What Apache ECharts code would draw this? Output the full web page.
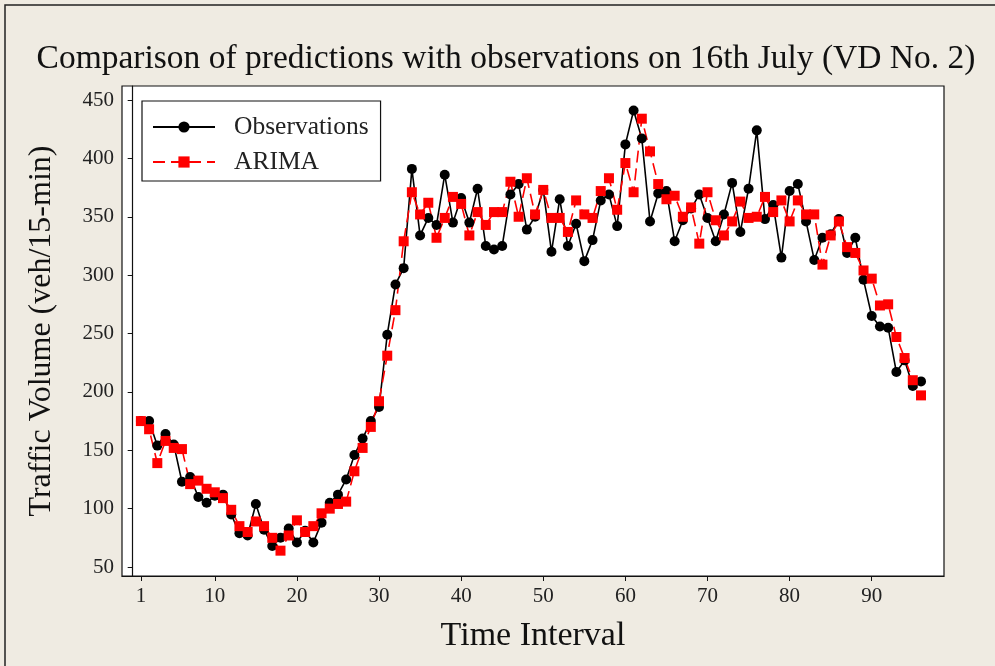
<!DOCTYPE html>
<html>
<head>
<meta charset="utf-8">
<script src="https://cdn.jsdelivr.net/npm/echarts@6/dist/echarts.min.js"></script>
<style>
html,body{margin:0;padding:0;background:#efebe2;}
#c{width:995px;height:666px;}
</style>
</head>
<body>
<div id="c"></div>
<script>
const observations = [175,175,154,164,155,123,127,110,105,111,
  112,95,79,77,104,82,68,75,83,71,
  81,71,88,105,112,125,146,160,175,187,
  249,292,306,391,334,349,343,386,345,366,
  345,374,325,322,325,369,378,339,350,373,
  320,365,325,344,312,330,364,369,342,412,
  441,417,346,370,372,329,347,357,369,349,
  329,352,379,337,374,424,348,360,315,372,
  378,346,313,332,335,348,319,332,296,265,
  256,255,217,227,205,209];
const arima = [175,168,139,158,152,151,121,124,117,114,
  109,99,85,80,89,85,75,64,77,90,
  80,85,96,100,104,106,132,152,170,192,
  231,270,329,371,352,362,332,349,367,361,
  334,354,343,354,354,380,350,383,352,373,
  349,349,337,364,352,349,372,383,356,396,
  371,434,406,378,365,368,350,358,327,371,
  347,334,346,363,349,350,367,354,364,346,
  364,352,352,309,334,346,324,319,304,297,
  274,275,247,229,210,197];
const xTicks = [1,10,20,30,40,50,60,70,80,90];
const yTicks = [50,100,150,200,250,300,350,400,450];
const titleText = 'Comparison of predictions with observations on 16th July (VD No. 2)';

const toPairs = arr => arr.map((v, i) => [i + 1, v]);
const FONT = 'Liberation Serif';

const chart = echarts.init(document.getElementById('c'), null, {renderer: 'canvas'});
chart.setOption({
  backgroundColor: '#efebe2',
  animation: false,
  graphic: [
    {type: 'rect', shape: {x: 5, y: 5, width: 1100, height: 800},
     style: {fill: 'none', stroke: '#222', lineWidth: 1.5}, silent: true, z: -1},
    {type: 'text', x: 506, y: 59,
     style: {text: titleText, font: '33.5px "Liberation Serif"', fill: '#111',
             textAlign: 'center', textVerticalAlign: 'middle'}}
  ],
  grid: {left: 122, top: 86, right: 51, bottom: 90, show: true,
         backgroundColor: '#ffffff', borderColor: '#111', borderWidth: 1.2},
  legend: {
    left: 142, top: 101, orient: 'vertical',
    backgroundColor: '#ffffff', borderColor: '#111', borderWidth: 1.2,
    padding: [13, 12, 6, 10], itemGap: 9, itemWidth: 62, itemHeight: 14,
    textStyle: {fontFamily: FONT, fontSize: 25.5, color: '#222', padding: [0, 0, 0, 14]},
    data: ['Observations', 'ARIMA']
  },
  xAxis: {
    type: 'value', min: -1.3, max: 98.8,
    name: 'Time Interval', nameLocation: 'middle', nameGap: 43,
    nameTextStyle: {fontFamily: FONT, fontSize: 34, color: '#111'},
    axisLine: {show: true, lineStyle: {color: '#111', width: 1.2}},
    axisTick: {show: true, inside: false, length: 5, customValues: xTicks,
               lineStyle: {color: '#111'}},
    axisLabel: {customValues: xTicks, fontFamily: FONT, fontSize: 21, color: '#222', margin: 10},
    splitLine: {show: false}
  },
  yAxis: {
    type: 'value', min: 42.3, max: 462,
    name: 'Traffic Volume (veh/15-min)', nameLocation: 'middle', nameGap: 64,
    nameTextStyle: {fontFamily: FONT, fontSize: 32, color: '#111'},
    axisLine: {show: true, lineStyle: {color: '#111', width: 1.2}},
    axisTick: {show: true, inside: false, length: 5, customValues: yTicks,
               lineStyle: {color: '#111'}},
    axisLabel: {customValues: yTicks, fontFamily: FONT, fontSize: 21, color: '#222', margin: 8},
    splitLine: {show: false}
  },
  series: [
    {name: 'Observations', type: 'line', data: toPairs(observations),
     symbol: 'circle', symbolSize: 10,
     itemStyle: {color: '#000'}, lineStyle: {color: '#000', width: 1.6}},
    {name: 'ARIMA', type: 'line', data: toPairs(arima),
     symbol: 'rect', symbolSize: 10,
     itemStyle: {color: '#ff0000'}, lineStyle: {color: '#ff0000', width: 1.6, type: [12, 6]}}
  ]
});
</script>
</body>
</html>
